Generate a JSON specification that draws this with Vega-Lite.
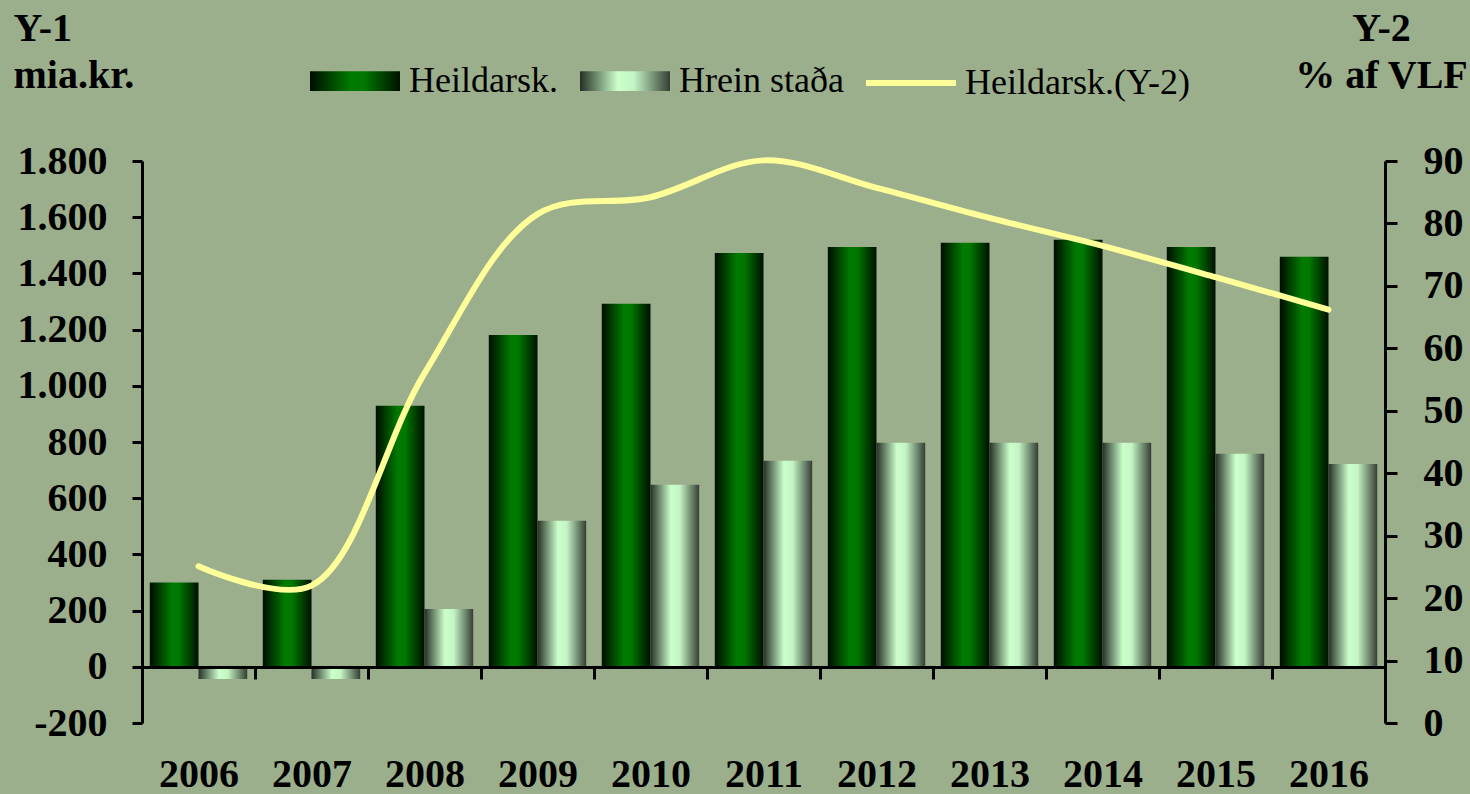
{
  "$schema": "https://vega.github.io/schema/vega-lite/v6.json",
  "width": 1243,
  "height": 562,
  "autosize": "none",
  "padding": {"left": 142, "top": 161, "right": 85, "bottom": 71},
  "background": "#9caf8c",
  "config": {
    "view": {"stroke": null},
    "font": "Liberation Serif",
    "axis": {"labelFont": "Liberation Serif", "titleFont": "Liberation Serif", "grid": false},
    "legend": {"labelFont": "Liberation Serif"}
  },
  "layer": [
    {
      "data": {
        "values": [
          {"year": "2006", "series": "Heildarsk.", "value": 300},
          {"year": "2006", "series": "Hrein staða", "value": -43},
          {"year": "2007", "series": "Heildarsk.", "value": 310},
          {"year": "2007", "series": "Hrein staða", "value": -43},
          {"year": "2008", "series": "Heildarsk.", "value": 929},
          {"year": "2008", "series": "Hrein staða", "value": 206},
          {"year": "2009", "series": "Heildarsk.", "value": 1181},
          {"year": "2009", "series": "Hrein staða", "value": 520},
          {"year": "2010", "series": "Heildarsk.", "value": 1292},
          {"year": "2010", "series": "Hrein staða", "value": 648},
          {"year": "2011", "series": "Heildarsk.", "value": 1473},
          {"year": "2011", "series": "Hrein staða", "value": 733},
          {"year": "2012", "series": "Heildarsk.", "value": 1494},
          {"year": "2012", "series": "Hrein staða", "value": 797},
          {"year": "2013", "series": "Heildarsk.", "value": 1509},
          {"year": "2013", "series": "Hrein staða", "value": 797},
          {"year": "2014", "series": "Heildarsk.", "value": 1520},
          {"year": "2014", "series": "Hrein staða", "value": 797},
          {"year": "2015", "series": "Heildarsk.", "value": 1494},
          {"year": "2015", "series": "Hrein staða", "value": 758},
          {"year": "2016", "series": "Heildarsk.", "value": 1459},
          {"year": "2016", "series": "Hrein staða", "value": 722}
        ]
      },
      "mark": {"type": "bar"},
      "encoding": {
        "x": {
          "field": "year",
          "type": "ordinal",
          "scale": {"paddingInner": 0, "paddingOuter": 0},
          "axis": {
            "orient": "bottom",
            "offset": -56,
            "title": null,
            "domainColor": "black",
            "domainWidth": 3,
            "tickColor": "black",
            "tickWidth": 3,
            "tickSize": 12,
            "tickBand": "extent",
            "labelFontSize": 40,
            "labelFontWeight": "bold",
            "labelColor": "black",
            "labelPadding": 75,
            "labelAngle": 0,
            "zindex": 1
          }
        },
        "xOffset": {
          "field": "series",
          "type": "nominal",
          "sort": ["Heildarsk.", "Hrein staða"],
          "scale": {"paddingInner": 0, "paddingOuter": 0.16}
        },
        "y": {
          "field": "value",
          "type": "quantitative",
          "scale": {"domain": [-200, 1800], "nice": false, "zero": false},
          "axis": {
            "orient": "left",
            "values": [-200, 0, 200, 400, 600, 800, 1000, 1200, 1400, 1600, 1800],
            "labelExpr": "replace(replace(format(datum.value, ','), ',', '.'), '\u2212', '-')",
            "domainColor": "black",
            "domainWidth": 3,
            "tickColor": "black",
            "tickWidth": 3,
            "tickSize": 10,
            "labelFontSize": 40,
            "labelFontWeight": "bold",
            "labelColor": "black",
            "labelPadding": 25,
            "labelFlush": false,
            "labelOverlap": false,
            "title": ["Y-1", "mia.kr."],
            "titleAngle": 0,
            "titleAlign": "left",
            "titleBaseline": "top",
            "titleX": -129,
            "titleY": -153,
            "titleFontSize": 40,
            "titleFontWeight": "bold",
            "titleColor": "black",
            "titleLineHeight": 47,
            "zindex": 1
          }
        },
        "color": {
          "condition": {
            "test": "datum.series === 'Heildarsk.'",
            "value": {
              "gradient": "linear", "x1": 0, "y1": 0, "x2": 1, "y2": 0,
              "stops": [
                {"offset": 0, "color": "#000d00"},
                {"offset": 0.45, "color": "#007a00"},
                {"offset": 0.6, "color": "#007800"},
                {"offset": 1, "color": "#001000"}
              ]
            }
          },
          "value": {
            "gradient": "linear", "x1": 0, "y1": 0, "x2": 1, "y2": 0,
            "stops": [
              {"offset": 0, "color": "#263026"},
              {"offset": 0.42, "color": "#ccffcc"},
              {"offset": 0.6, "color": "#c4f4c4"},
              {"offset": 1, "color": "#343e34"}
            ]
          }
        }
      }
    },
    {
      "data": {
        "values": [
          {"year": "2006", "series": "Heildarsk.(Y-2)", "pct": 25.1},
          {"year": "2007", "series": "Heildarsk.(Y-2)", "pct": 22},
          {"year": "2008", "series": "Heildarsk.(Y-2)", "pct": 56},
          {"year": "2009", "series": "Heildarsk.(Y-2)", "pct": 81.5},
          {"year": "2010", "series": "Heildarsk.(Y-2)", "pct": 84.2},
          {"year": "2011", "series": "Heildarsk.(Y-2)", "pct": 90.1},
          {"year": "2012", "series": "Heildarsk.(Y-2)", "pct": 85.7},
          {"year": "2013", "series": "Heildarsk.(Y-2)", "pct": 80.9},
          {"year": "2014", "series": "Heildarsk.(Y-2)", "pct": 76.4},
          {"year": "2015", "series": "Heildarsk.(Y-2)", "pct": 71.4},
          {"year": "2016", "series": "Heildarsk.(Y-2)", "pct": 66.2}
        ]
      },
      "mark": {"type": "line", "interpolate": "catmull-rom", "strokeWidth": 6, "strokeCap": "round"},
      "encoding": {
        "x": {"field": "year", "type": "ordinal"},
        "y": {
          "field": "pct",
          "type": "quantitative",
          "scale": {"domain": [0, 90], "nice": false, "zero": false},
          "axis": {
            "orient": "right",
            "values": [0, 10, 20, 30, 40, 50, 60, 70, 80, 90],
            "domainColor": "black",
            "domainWidth": 3,
            "tickColor": "black",
            "tickWidth": 3,
            "tickSize": 12,
            "labelFontSize": 40,
            "labelFontWeight": "bold",
            "labelColor": "black",
            "labelPadding": 26,
            "labelFlush": false,
            "labelOverlap": false,
            "title": ["Y-2", "% af VLF"],
            "titleAngle": 0,
            "titleAlign": "center",
            "titleBaseline": "top",
            "titleX": -4,
            "titleY": -153,
            "titleFontSize": 40,
            "titleFontWeight": "bold",
            "titleColor": "black",
            "titleLineHeight": 47,
            "zindex": 1
          }
        },
        "color": {
          "field": "series",
          "type": "nominal",
          "scale": {
            "domain": ["Heildarsk.", "Hrein staða", "Heildarsk.(Y-2)"],
            "range": ["transparent", "transparent", "#ffff99"]
          },
          "legend": {
            "orient": "none",
            "legendX": 165,
            "legendY": -128,
            "direction": "horizontal",
            "title": null,
            "labelFontSize": 36,
            "labelColor": "black",
            "labelFontWeight": "normal",
            "labelOffset": 6,
            "labelLimit": 400,
            "columnPadding": 10,
            "symbolSize": 8100,
            "symbolStrokeWidth": 6,
            "symbolType": {"expr": "datum.value === 'Heildarsk.(Y-2)' ? 'M-1,0H1' : 'M-1,-0.22H1V0.22H-1Z'"},
            "symbolFillColor": {"expr": "datum.value === 'Heildarsk.' ? {gradient: 'linear', x1: 0, y1: 0, x2: 1, y2: 0, stops: [{offset: 0, color: '#000d00'}, {offset: 0.45, color: '#007a00'}, {offset: 0.6, color: '#007800'}, {offset: 1, color: '#001000'}]} : datum.value === 'Hrein staða' ? {gradient: 'linear', x1: 0, y1: 0, x2: 1, y2: 0, stops: [{offset: 0, color: '#263026'}, {offset: 0.42, color: '#ccffcc'}, {offset: 0.6, color: '#c4f4c4'}, {offset: 1, color: '#343e34'}]} : 'transparent'"}
          }
        }
      }
    }
  ],
  "resolve": {"scale": {"y": "independent"}}
}
